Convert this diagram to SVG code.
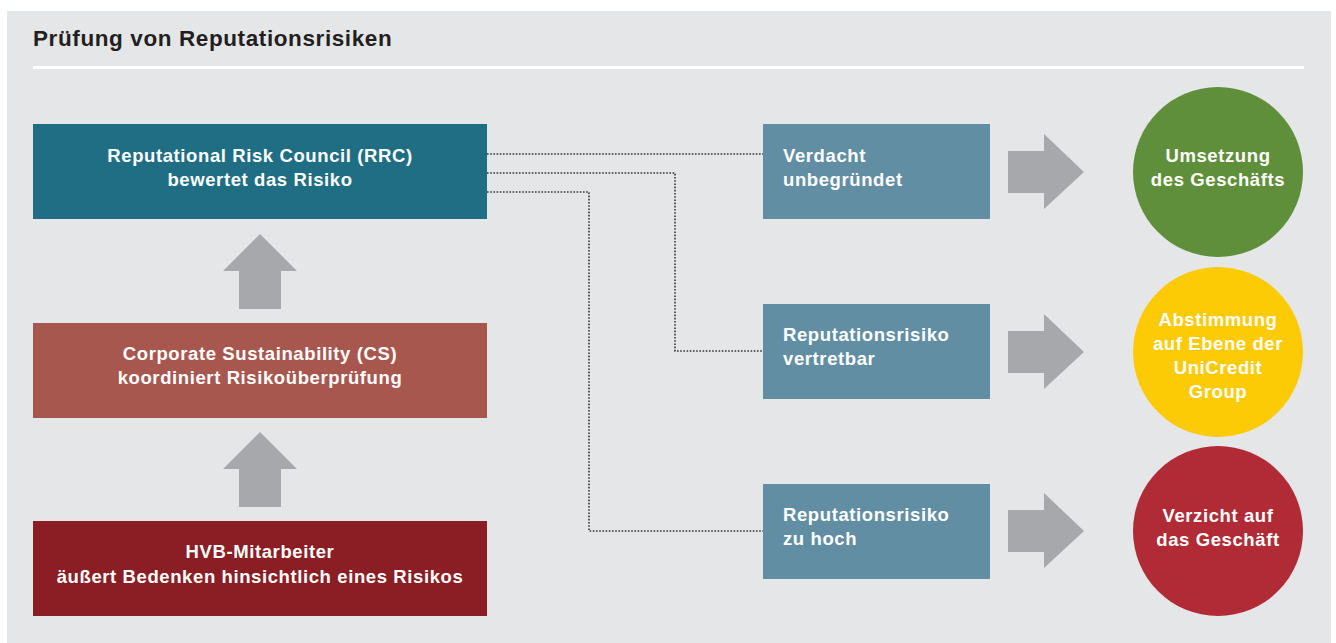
<svg xmlns="http://www.w3.org/2000/svg" width="1336" height="643" viewBox="0 0 1336 643">
<style>
text{font-family:"Liberation Sans",Arial,sans-serif;font-weight:bold;fill:#fff;font-size:18.5px;letter-spacing:0.6px}
.c{text-anchor:middle}
.title{fill:#231f20;font-size:22.5px;letter-spacing:0.6px}
.dot{fill:none;stroke:#333;stroke-width:1.6;stroke-dasharray:1.6 1.6}
.ga{fill:#a7a8ab}
.rb{fill:#628ea4}
</style>
<rect width="1336" height="643" fill="#fff"/>
<rect x="7" y="11" width="1324" height="632" fill="#e5e6e8"/>
<g id="title">
<text class="title" x="33" y="46">Prüfung von Reputationsrisiken</text>
<rect x="33" y="66" width="1271" height="3" fill="#fff"/>
</g>
<g id="connectors">
<polyline class="dot" points="487,154 763,154"/>
<polyline class="dot" points="487,173 675,173 675,351 763,351"/>
<polyline class="dot" points="487,192 589,192 589,531 763,531"/>
<polygon class="ga" points="260,234 297,271 281,271 281,309 239,309 239,271 223,271"/>
<polygon class="ga" points="260,432 297,469 281,469 281,507 239,507 239,469 223,469"/>
<polygon class="ga" points="1008,151 1044,151 1044,134 1084,172 1044,209 1044,193 1008,193"/>
<polygon class="ga" points="1008,331 1044,331 1044,314 1084,352 1044,389 1044,373 1008,373"/>
<polygon class="ga" points="1008,510 1044,510 1044,493 1084,531 1044,568 1044,552 1008,552"/>
</g>
<g id="rrc">
<rect x="33" y="124" width="454" height="95" fill="#206e84"/>
<text class="c" x="260" y="162">Reputational Risk Council (RRC)</text>
<text class="c" x="260" y="186">bewertet das Risiko</text>
</g>
<g id="cs">
<rect x="33" y="323" width="454" height="95" fill="#a8574e"/>
<text class="c" x="260" y="360">Corporate Sustainability (CS)</text>
<text class="c" x="260" y="384">koordiniert Risikoüberprüfung</text>
</g>
<g id="hvb">
<rect x="33" y="521" width="454" height="95" fill="#8b1e24"/>
<text class="c" x="260" y="558">HVB-Mitarbeiter</text>
<text class="c" x="260" y="583">äußert Bedenken hinsichtlich eines Risikos</text>
</g>
<g id="unbegruendet">
<rect class="rb" x="763" y="124" width="227" height="95"/>
<text x="783" y="162">Verdacht</text>
<text x="783" y="186">unbegründet</text>
</g>
<g id="vertretbar">
<rect class="rb" x="763" y="304" width="227" height="95"/>
<text x="783" y="341">Reputationsrisiko</text>
<text x="783" y="365">vertretbar</text>
</g>
<g id="zuhoch">
<rect class="rb" x="763" y="484" width="227" height="95"/>
<text x="783" y="521">Reputationsrisiko</text>
<text x="783" y="545">zu hoch</text>
</g>
<g id="umsetzung">
<circle cx="1218" cy="172" r="85" fill="#5f8f3a"/>
<text class="c" x="1218" y="162">Umsetzung</text>
<text class="c" x="1218" y="186">des Geschäfts</text>
</g>
<g id="abstimmung">
<circle cx="1218" cy="352" r="85" fill="#fccb06"/>
<text class="c" x="1218" y="326">Abstimmung</text>
<text class="c" x="1218" y="350">auf Ebene der</text>
<text class="c" x="1218" y="374">UniCredit</text>
<text class="c" x="1218" y="398">Group</text>
</g>
<g id="verzicht">
<circle cx="1218" cy="531" r="85" fill="#b02b36"/>
<text class="c" x="1218" y="522">Verzicht auf</text>
<text class="c" x="1218" y="546">das Geschäft</text>
</g>
</svg>
